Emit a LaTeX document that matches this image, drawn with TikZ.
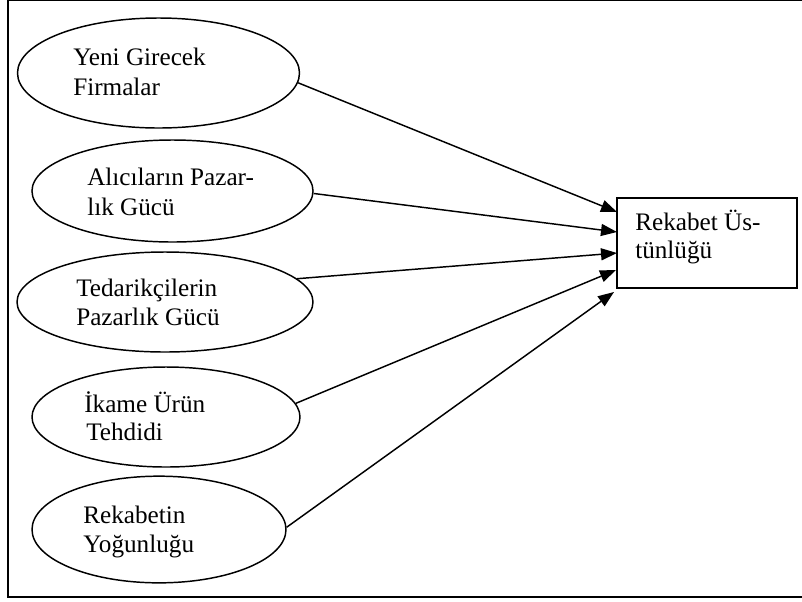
\documentclass[tikz,border=0pt]{standalone}
\usepackage{fontspec}
\setmainfont{Liberation Serif}
\usetikzlibrary{shapes.geometric,arrows.meta}
\begin{document}
\begin{tikzpicture}[x=0.75pt,y=-0.75pt,
  oval/.style={draw,line width=1.1pt,ellipse,inner sep=0pt},
  lbl/.style={anchor=base west,inner sep=0pt,align=left,font=\fontsize{18.9}{22.5}\selectfont},
  conn/.style={line width=1.1pt,-{Triangle[length=12pt,width=9pt]}},
  frame/.style={draw,line width=1.3pt},
  boxst/.style={draw,line width=1.1pt,rectangle,inner sep=0pt}]
\useasboundingbox (0,0) rectangle (802,601);
\draw[frame] (8,0.4) rectangle (812,597);
% ellipses (sizes in px*0.75pt)
\node[oval,minimum width=211.5pt,minimum height=82.5pt] (e1) at (158.5,73) {};
\node[oval,minimum width=210.8pt,minimum height=76.5pt] (e2) at (172.5,191) {};
\node[oval,minimum width=222pt,minimum height=75pt] (e3) at (165,302) {};
\node[oval,minimum width=201pt,minimum height=75pt] (e4) at (166,417) {};
\node[oval,minimum width=190.5pt,minimum height=80pt] (e5) at (159,529.5) {};
% box
\node[boxst,minimum width=135pt,minimum height=67.5pt] (box) at (707,243) {};
% labels
\node[lbl] (l1a) at (73,65) {Yeni Girecek};
\node[lbl] (l1b) at (73,95) {Firmalar};
\node[lbl] (l2a) at (87,185) {Alıcıların Pazar-};
\node[lbl] (l2b) at (87,215) {lık Gücü};
\node[lbl] (l3a) at (76,296) {Tedarikçilerin};
\node[lbl] (l3b) at (76,325) {Pazarlık Gücü};
\node[lbl] (l4a) at (84,412) {İkame Ürün};
\node[lbl] (l4b) at (86,440) {Tehdidi};
\node[lbl] (l5a) at (83,523) {Rekabetin};
\node[lbl] (l5b) at (83,552) {Yoğunluğu};
\node[lbl] (lba) at (635,230) {Rekabet Üs-};
\node[lbl] (lbb) at (635,258) {tünlüğü};
% arrow targets
\coordinate (t1) at (617,212);
\coordinate (t2) at (617,232);
\coordinate (t3) at (617,253);
\coordinate (t4) at (616,270);
\coordinate (t5) at (614,292);
\draw[conn] (e1.-4) -- (t1);
\draw[conn] (e2.-1) -- (t2);
\draw[conn] (e3.10) -- (t3);
\draw[conn] (e4.6) -- (t4);
\draw[conn] (e5.1) -- (t5);
\end{tikzpicture}
\end{document}
